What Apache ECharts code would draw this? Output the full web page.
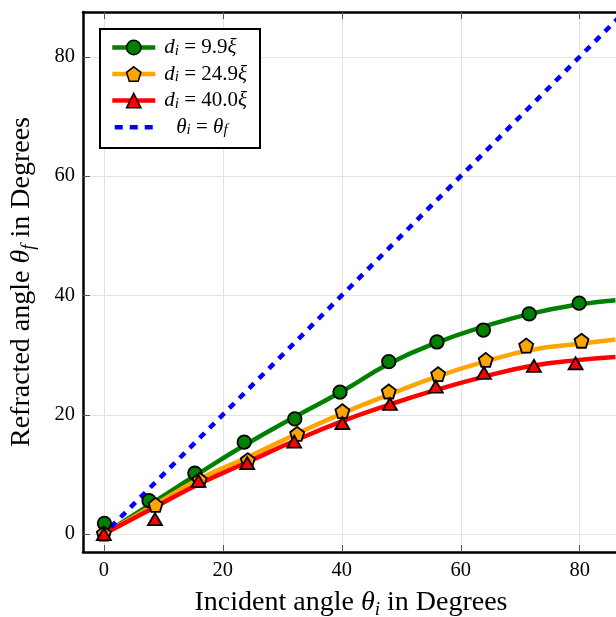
<!DOCTYPE html>
<html>
<head>
<meta charset="utf-8">
<script src="https://cdn.jsdelivr.net/npm/echarts@6/dist/echarts.min.js"></script>
<style>
  html, body { margin: 0; padding: 0; background: #fff; }
  #chart { width: 616px; height: 617px; }
</style>
</head>
<body>
<div id="chart"></div>
<script>
// fitted curves
const curveX = [0, 8, 16, 24, 32, 40, 48, 56, 64, 72, 80, 86];
const curveGreen = [0, 5.1, 10.2, 15.1, 19.6, 23.9, 28.6, 32.1, 34.8, 37.0, 38.5, 39.2];
const curveOrange = [0, 4.6, 9.2, 12.8, 16.6, 20.2, 23.4, 26.4, 28.9, 30.9, 31.9, 32.6];
const curveRed = [0, 4.2, 8.4, 12.0, 15.6, 18.9, 21.7, 24.2, 26.4, 28.2, 29.2, 29.7];

// simulation markers
const greenX = [0.1, 7.6, 15.3, 23.6, 32.1, 39.7, 47.9, 56.0, 63.8, 71.5, 79.9];
const greenY = [1.8, 5.6, 10.2, 15.4, 19.3, 23.8, 28.9, 32.2, 34.2, 36.9, 38.7];
const orangeX = [0, 8.7, 16.1, 24.2, 32.5, 40.1, 47.9, 56.2, 64.2, 71.0, 80.3];
const orangeY = [0.1, 4.9, 9.1, 12.4, 16.8, 20.6, 23.9, 26.8, 29.2, 31.6, 32.4];
const redX = [0, 8.6, 15.9, 24.1, 32.0, 40.1, 48.1, 55.8, 63.9, 72.3, 79.3];
const redY = [0, 2.5, 8.9, 11.9, 15.5, 18.6, 21.8, 24.7, 27.0, 28.2, 28.6];

// theta_i = theta_f
const diagX = [-0.5, 87];
const diagY = [-0.5, 87];

const tickValues = [0, 20, 40, 60, 80];
const labels = {
    d1: '{pad|}{it|d}{sub|i}{n| = 9.9}{it|ξ}',
    d2: '{pad|}{it|d}{sub|i}{n| = 24.9}{it|ξ}',
    d3: '{pad|}{it|d}{sub|i}{n| = 40.0}{it|ξ}',
    eq: '{pad2|}{it|θ}{sub|i}{n| = }{it|θ}{sub|f}'
};

const FONT = 'Liberation Serif';
const pentagon = 'path://M0,-1 L0.951,-0.309 L0.588,0.809 L-0.588,0.809 L-0.951,-0.309 Z';
const dashIcon = 'path://M0,0h0.01v0.01h-0.01z M0,18h0.01v0.01h-0.01z M0,7h8v4.5h-8z M15,7h8v4.5h-8z M30,7h8v4.5h-8z';

const zip = (xs, ys) => xs.map((x, i) => [x, ys[i]]);

const titleRich = {
    n: { fontFamily: FONT, fontSize: 28, color: '#000', lineHeight: 32 },
    it: { fontFamily: FONT, fontSize: 28, fontStyle: 'italic', color: '#000', lineHeight: 32 },
    sub: { fontFamily: FONT, fontSize: 19, fontStyle: 'italic', color: '#000', lineHeight: 19, verticalAlign: 'bottom' }
};

let myChart = echarts.init(document.getElementById('chart'));
myChart.setOption({
    animation: false,
    backgroundColor: '#fff',
    grid: { left: 83, right: -3, top: 12, bottom: 65, containLabel: false, outerBoundsMode: 'none' },
    legend: {
        orient: 'vertical',
        left: 100,
        top: 29,
        padding: [8, 13, 10, 10],
        itemWidth: 43,
        itemHeight: 18,
        itemGap: 5,
        backgroundColor: '#fff',
        borderColor: '#000',
        borderWidth: 2,
        borderRadius: 0,
        data: [
            { name: 'd1', itemStyle: { color: '#008000', borderColor: '#000', borderWidth: 1.5 }, lineStyle: { color: '#008000', width: 4.5 } },
            { name: 'd2', itemStyle: { color: '#ffa500', borderColor: '#000', borderWidth: 1.5 }, lineStyle: { color: '#ffa500', width: 4.5 } },
            { name: 'd3', itemStyle: { color: '#ff0000', borderColor: '#000', borderWidth: 1.5 }, lineStyle: { color: '#ff0000', width: 4.5 } },
            { name: 'eq', icon: dashIcon, itemStyle: { color: '#0000ff', borderWidth: 0 } }
        ],
        formatter: name => labels[name],
        textStyle: {
            rich: {
                n: { fontFamily: FONT, fontSize: 21, color: '#000', lineHeight: 22 },
                it: { fontFamily: FONT, fontSize: 21, fontStyle: 'italic', color: '#000', lineHeight: 22 },
                sub: { fontFamily: FONT, fontSize: 15, fontStyle: 'italic', color: '#000', lineHeight: 15, verticalAlign: 'bottom' },
                pad: { width: 4 },
                pad2: { width: 16 }
            }
        }
    },
    xAxis: [{
        type: 'value',
        min: -3.5,
        max: 86.6,
        name: '{n|Incident angle }{it|θ}{sub|i}{n| in Degrees}',
        nameLocation: 'middle',
        nameGap: 35,
        nameTextStyle: { rich: titleRich },
        axisLine: { show: true, onZero: false, lineStyle: { color: '#000', width: 2.5 } },
        axisTick: { show: true, inside: true, length: 7, customValues: tickValues, lineStyle: { color: '#555', width: 1 } },
        axisLabel: { customValues: tickValues, margin: 8, fontFamily: FONT, fontSize: 20.5, color: '#000' },
        splitLine: { show: true, lineStyle: { color: '#e3e3e3', width: 1 } }
    }, {
        type: 'value',
        position: 'top',
        min: -3.5,
        max: 86.6,
        axisLine: { show: true, onZero: false, lineStyle: { color: '#000', width: 2.5 } },
        axisTick: { show: true, inside: true, length: 7, customValues: tickValues, lineStyle: { color: '#555', width: 1 } },
        axisLabel: { show: false },
        splitLine: { show: false }
    }],
    yAxis: {
        type: 'value',
        min: -3,
        max: 87.5,
        name: '{n|Refracted angle }{it|θ}{sub|f}{n| in Degrees}',
        nameLocation: 'middle',
        nameGap: 45,
        nameTextStyle: { rich: titleRich },
        axisLine: { show: true, onZero: false, lineStyle: { color: '#000', width: 2.5 } },
        axisTick: { show: true, inside: true, length: 7, customValues: tickValues, lineStyle: { color: '#555', width: 1 } },
        axisLabel: { customValues: tickValues, margin: 8, fontFamily: FONT, fontSize: 20.5, color: '#000' },
        splitLine: { show: true, lineStyle: { color: '#e3e3e3', width: 1 } }
    },
    series: [
        {
            name: 'd1', type: 'line', smooth: true, showSymbol: false, symbol: 'circle',
            data: zip(curveX, curveGreen),
            lineStyle: { color: '#008000', width: 4.5 },
            itemStyle: { color: '#008000', borderColor: '#000', borderWidth: 1.5 },
            z: 2
        },
        {
            name: 'd2', type: 'line', smooth: true, showSymbol: false, symbol: pentagon,
            data: zip(curveX, curveOrange),
            lineStyle: { color: '#ffa500', width: 4.5 },
            itemStyle: { color: '#ffa500', borderColor: '#000', borderWidth: 1.5 },
            z: 2
        },
        {
            name: 'd3', type: 'line', smooth: true, showSymbol: false, symbol: 'triangle',
            data: zip(curveX, curveRed),
            lineStyle: { color: '#ff0000', width: 4.5 },
            itemStyle: { color: '#ff0000', borderColor: '#000', borderWidth: 1.5 },
            z: 2
        },
        {
            name: 'eq', type: 'line', showSymbol: false, symbol: 'none',
            data: zip(diagX, diagY),
            lineStyle: { color: '#0000ff', width: 4.5, type: [7, 7] },
            z: 3
        },
        {
            name: 'm1', type: 'scatter', symbol: 'circle', symbolSize: 13.5,
            data: zip(greenX, greenY),
            itemStyle: { color: '#008000', borderColor: '#000', borderWidth: 1.8, opacity: 1 },
            z: 4
        },
        {
            name: 'm2', type: 'scatter', symbol: pentagon, symbolSize: 14,
            data: zip(orangeX, orangeY),
            itemStyle: { color: '#ffa500', borderColor: '#000', borderWidth: 1.8, opacity: 1 },
            z: 4
        },
        {
            name: 'm3', type: 'scatter', symbol: 'triangle', symbolSize: [14, 12],
            data: zip(redX, redY),
            itemStyle: { color: '#ff0000', borderColor: '#000', borderWidth: 1.8, opacity: 1 },
            z: 4
        }
    ]
});
</script>
</body>
</html>
